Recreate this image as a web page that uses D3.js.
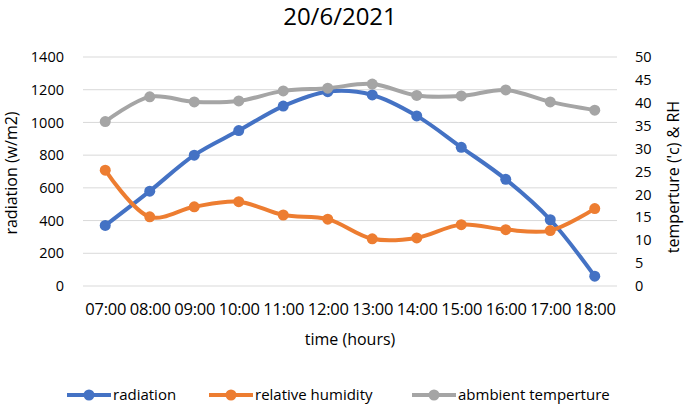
<!DOCTYPE html>
<html>
<head>
<meta charset="utf-8">
<script src="https://cdn.jsdelivr.net/npm/d3@7"></script>
<style>
  html, body { margin: 0; padding: 0; background: #fff; }
  svg { display: block; font-family: "Open Sans", sans-serif; }
</style>
</head>
<body>
<svg id="chart" width="685" height="405"></svg>
<script>
const hours = ["07:00","08:00","09:00","10:00","11:00","12:00","13:00","14:00","15:00","16:00","17:00","18:00"];
const radiation = [370, 580, 800, 950, 1100, 1188, 1168, 1040, 848, 652, 405, 60];
const humidity = [25.3, 15.1, 17.3, 18.4, 15.5, 14.6, 10.3, 10.5, 13.4, 12.3, 12.1, 16.9];
const temperature = [35.9, 41.3, 40.2, 40.4, 42.6, 43.2, 44.1, 41.6, 41.5, 42.8, 40.2, 38.4];
const leftTicks = [0, 200, 400, 600, 800, 1000, 1200, 1400];
const rightTicks = [0, 5, 10, 15, 20, 25, 30, 35, 40, 45, 50];

const series = [
  { name: "radiation", values: radiation, axis: "left", color: "#4472C4" },
  { name: "relative humidity", values: humidity, axis: "right", color: "#ED7D31" },
  { name: "abmbient temperture", values: temperature, axis: "right", color: "#A5A5A5" }
];

const svg = d3.select("#chart");
const m = { left: 83, right: 617, top: 57, bottom: 286 };

const x = d3.scalePoint().domain(hours).range([m.left, m.right]).padding(0.5);
const yL = d3.scaleLinear().domain([0, 1400]).range([m.bottom, m.top]);
const yR = d3.scaleLinear().domain([0, 50]).range([m.bottom, m.top]);

// gridlines
svg.append("g").selectAll("line").data(leftTicks).join("line")
  .attr("x1", m.left).attr("x2", m.right)
  .attr("y1", d => yL(d)).attr("y2", d => yL(d))
  .attr("stroke", "#D9D9D9").attr("stroke-width", 1);

// left axis
const gL = svg.append("g").attr("transform", `translate(${m.left - 8},0)`)
  .call(d3.axisLeft(yL).tickValues(leftTicks).tickFormat(d3.format("d")).tickSize(0).tickPadding(11));
gL.select(".domain").remove();
gL.selectAll("text").attr("font-size", "14.5px").attr("fill", "#000").attr("font-family", "Open Sans");

// right axis
const gR = svg.append("g").attr("transform", `translate(${m.right + 8},0)`)
  .call(d3.axisRight(yR).tickValues(rightTicks).tickSize(0).tickPadding(10));
gR.select(".domain").remove();
gR.selectAll("text").attr("font-size", "14.5px").attr("fill", "#000").attr("font-family", "Open Sans");

// x axis
const gX = svg.append("g").attr("transform", `translate(0,${m.bottom})`)
  .call(d3.axisBottom(x).tickSize(0).tickPadding(17));
gX.select(".domain").remove();
gX.selectAll("text").attr("font-size", "16.5px").attr("fill", "#000").attr("font-family", "Open Sans")
  .attr("letter-spacing", "-0.2px");

// titles
svg.append("text").attr("x", 340).attr("y", 25).attr("text-anchor", "middle")
  .attr("font-size", "24px").attr("fill", "#000").text("20/6/2021");
svg.append("text").attr("x", 350).attr("y", 345).attr("text-anchor", "middle")
  .attr("font-size", "16px").attr("fill", "#000").text("time (hours)");
svg.append("text").attr("transform", "translate(17,173) rotate(-90)").attr("text-anchor", "middle")
  .attr("font-size", "16px").attr("fill", "#000").text("radiation (w/m2)");
svg.append("text").attr("transform", "translate(679,177) rotate(-90)").attr("text-anchor", "middle")
  .attr("font-size", "16px").attr("fill", "#000").text("temperture ('c) & RH");

// lines
series.forEach(s => {
  const y = s.axis === "left" ? yL : yR;
  const line = d3.line().x((d, i) => x(hours[i])).y(d => y(d)).curve(d3.curveCatmullRom.alpha(0.5));
  const g = svg.append("g");
  g.append("path").datum(s.values).attr("d", line)
    .attr("fill", "none").attr("stroke", s.color).attr("stroke-width", 4)
    .attr("stroke-linejoin", "round").attr("stroke-linecap", "round");
  g.selectAll("circle").data(s.values).join("circle")
    .attr("cx", (d, i) => x(hours[i])).attr("cy", d => y(d)).attr("r", 5.5)
    .attr("fill", s.color);
});

// legend
const legendX = [67, 209, 412];
const lg = svg.append("g");
series.forEach((s, i) => {
  const g = lg.append("g").attr("transform", `translate(${legendX[i]},395)`);
  g.append("line").attr("x1", 0).attr("x2", 44).attr("y1", 0).attr("y2", 0)
    .attr("stroke", s.color).attr("stroke-width", 4);
  g.append("circle").attr("cx", 22).attr("cy", 0).attr("r", 5.5).attr("fill", s.color);
  g.append("text").attr("x", 46).attr("y", 0).attr("dy", "0.35em")
    .attr("font-size", "15px").attr("fill", "#000").text(s.name);
});
</script>
</body>
</html>
